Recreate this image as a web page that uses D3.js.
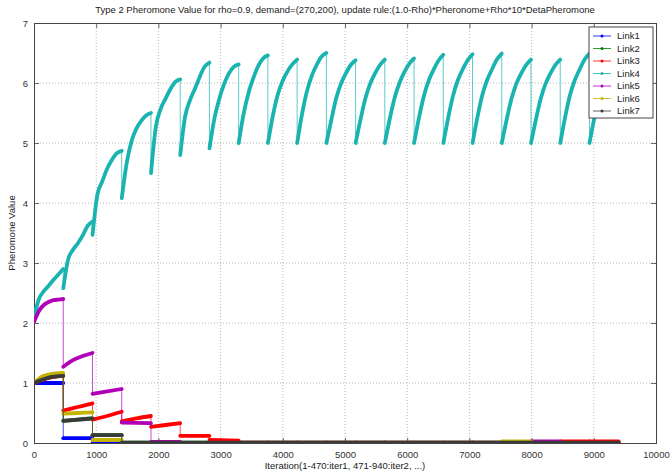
<!DOCTYPE html>
<html><head><meta charset="utf-8">
<script src="https://cdn.jsdelivr.net/npm/d3@7"></script>
<style>body{margin:0;background:#fff}</style>
</head><body><svg id="c" width="670" height="474"></svg>
<script>
// ---------------- data ----------------
const iterLength = 470;
const linkNames = ["Link1","Link2","Link3","Link4","Link5","Link6","Link7"];
const linkColors = ["#0000ff","#008000","#ff0000","#19b3b0","#b000b8","#c2b400","#3a3a3a"];
const xTicks = [0,1000,2000,3000,4000,5000,6000,7000,8000,9000,10000];
const yTicks = [0,1,2,3,4,5,6,7];
const titleText = "Type 2 Pheromone Value for rho=0.9, demand=(270,200), update rule:(1.0-Rho)*Pheronome+Rho*10*DetaPheromone";
const xLabel = "Iteration(1-470:iter1, 471-940:iter2, ...)";
const yLabel = "Pheromone Value";

// one entry per iteration block (values spread evenly across the block)
const link1 = [[1.0,1.0],[0.08,0.08],[0.0,0.0],[0],[0],[0],[0],[0],[0],[0],[0],[0],[0],[0],[0],[0],[0],[0],[0],[0]];
const link2 = [[1.0,1.05,1.09,1.11,1.12],[0.37,0.39,0.41],[0.13,0.13],[0.005],[0.005],[0.005],[0.005],[0.005],[0.005],[0.005],[0.005],[0.005],[0.005],[0.005],[0.005],[0.005],[0.005],[0.005],[0.005],[0.005]];
const link3 = [[1.0,1.06,1.1,1.12],[0.54,0.58,0.62,0.66],[0.39,0.45,0.52],[0.36,0.41,0.45],[0.27,0.30,0.33],[0.12,0.12],[0.05,0.04],[0.005],[0.005],[0.005],[0.005],[0.005],[0.005],[0.005],[0.005],[0.005],[0.005],[0.005],[0.025],[0.025]];
const link4 = [
  [2.10,2.40,2.53,2.62,2.72,2.81,2.90],
  [2.58,3.06,3.22,3.33,3.46,3.62,3.69],
  [3.47,4.14,4.36,4.57,4.72,4.83,4.87],
  [4.08,4.66,5.03,5.24,5.37,5.46,5.50],
  [4.50,5.27,5.57,5.74,5.90,6.02,6.06],
  [4.80,5.44,5.71,5.90,6.10,6.27,6.34],
  [4.91,5.40,5.73,5.98,6.16,6.27,6.31],
  [5.00,5.48,5.83,6.08,6.28,6.41,6.46],
  [5.00,5.45,5.80,6.03,6.19,6.31,6.39],
  [5.00,5.48,5.86,6.12,6.30,6.44,6.50],
  [5.00,5.38,5.74,5.99,6.16,6.30,6.38],
  [5.00,5.39,5.74,5.99,6.16,6.30,6.39],
  [5.00,5.40,5.75,6.00,6.18,6.32,6.41],
  [5.00,5.42,5.78,6.04,6.22,6.37,6.47],
  [5.00,5.42,5.79,6.05,6.23,6.38,6.48],
  [5.00,5.43,5.80,6.05,6.23,6.39,6.49],
  [5.00,5.39,5.74,5.99,6.16,6.30,6.39],
  [5.00,5.39,5.74,5.99,6.16,6.30,6.39],
  [5.00,5.43,5.80,6.05,6.23,6.39,6.49],
  [5.00,5.42,5.78,6.04,6.22,6.37,6.47]
];
const link5 = [[2.02,2.2,2.3,2.35,2.38,2.39,2.4],[1.27,1.38,1.45,1.5],[0.82,0.86,0.9],[0.34,0.33],[0.02,0.02],[0],[0],[0],[0],[0],[0],[0],[0],[0],[0],[0],[0],[0.025],[0],[0]];
const link6 = [[1.0,1.1,1.14,1.16,1.17],[0.49,0.5,0.51],[0.05,0.05],[0],[0],[0],[0],[0],[0],[0],[0],[0],[0],[0],[0],[0],[0.025],[0],[0],[0]];
const link7 = [[1.0,1.05,1.09,1.11,1.12],[0.37,0.39,0.41],[0.13,0.13],[0.005],[0.005],[0.005],[0.005],[0.005],[0.005],[0.005],[0.005],[0.005],[0.005],[0.005],[0.005],[0.005],[0.005],[0.005],[0.005],[0.005]];
const allLinks = [link1,link2,link3,link4,link5,link6,link7];

// ---------------- layout ----------------
const svg = d3.select("#c");
const m = {l:34, r:14, t:23, b:31};
const W = 670, H = 474;
const x = d3.scaleLinear().domain([0,10000]).range([m.l, W-m.r]);
const y = d3.scaleLinear().domain([0,7]).range([H-m.b, m.t]);
const font = "Liberation Sans, Arial, Helvetica, sans-serif";

// grid
const grid = svg.append("g").attr("stroke","#9a9a9a").attr("stroke-width",0.7).attr("stroke-dasharray","1,2");
grid.selectAll(".gx").data(xTicks.slice(1,-1)).join("line")
  .attr("x1",d=>x(d)).attr("x2",d=>x(d)).attr("y1",y(0)).attr("y2",y(7));
grid.selectAll(".gy").data(yTicks.slice(1,-1)).join("line")
  .attr("y1",d=>y(d)).attr("y2",d=>y(d)).attr("x1",x(0)).attr("x2",x(10000));

// axes with inward ticks
const tl = 5;
const axB = svg.append("g").attr("transform",`translate(0,${y(0)})`)
  .call(d3.axisBottom(x).tickValues(xTicks).tickSize(-tl).tickPadding(8).tickFormat(d3.format("d")));
const axT = svg.append("g").attr("transform",`translate(0,${y(7)})`)
  .call(d3.axisTop(x).tickValues(xTicks).tickSize(-tl).tickFormat(""));
const axL = svg.append("g").attr("transform",`translate(${x(0)},0)`)
  .call(d3.axisLeft(y).tickValues(yTicks).tickSize(-tl).tickPadding(6).tickFormat(d3.format("d")));
const axR = svg.append("g").attr("transform",`translate(${x(10000)},0)`)
  .call(d3.axisRight(y).tickValues(yTicks).tickSize(-tl).tickFormat(""));
[axB,axT,axL,axR].forEach(a=>{
  a.select(".domain").attr("stroke","#444").attr("stroke-width",1);
  a.selectAll(".tick line").attr("stroke","#444").attr("stroke-width",0.8);
  a.selectAll("text").attr("font-family",font).attr("font-size",9.5).attr("fill","#333");
});

// series
const clip = svg.append("clipPath").attr("id","pc").append("rect")
  .attr("x",x(0)).attr("y",y(7)).attr("width",x(10000)-x(0)).attr("height",y(0)-y(7));
const plot = svg.append("g").attr("clip-path","url(#pc)");

function segPoints(vals, i){
  const v = vals.length === 1 ? [vals[0], vals[0]] : vals;
  const start = i*iterLength + 1, span = iterLength - 1;
  return v.map((val,k)=>[start + k*span/(v.length-1), val]);
}
const thin = d3.line().x(d=>x(d[0])).y(d=>y(d[1]));
const thick = d3.line().x(d=>x(d[0])).y(d=>y(d[1])).curve(d3.curveMonotoneX);

allLinks.forEach((segs, li)=>{
  const g = plot.append("g");
  const segs2 = segs.map((s,i)=>segPoints(s,i));
  g.append("path").attr("d", thin(segs2.flat()))
    .attr("fill","none").attr("stroke",linkColors[li]).attr("stroke-width",0.7);
  g.selectAll(".seg").data(segs2).join("path").attr("d", d=>thick(d))
    .attr("fill","none").attr("stroke",linkColors[li]).attr("stroke-width",3.8)
    .attr("stroke-linecap","round").attr("stroke-linejoin","round");
});

// title & labels
svg.append("text").attr("x",(x(0)+x(10000))/2).attr("y",13).attr("text-anchor","middle")
  .attr("font-family",font).attr("font-size",9.5).attr("fill","#222").text(titleText);
svg.append("text").attr("x",(x(0)+x(10000))/2).attr("y",469).attr("text-anchor","middle")
  .attr("font-family",font).attr("font-size",9.5).attr("fill","#222").text(xLabel);
svg.append("text").attr("transform",`translate(15,${(y(0)+y(7))/2}) rotate(-90)`).attr("text-anchor","middle")
  .attr("font-family",font).attr("font-size",9.5).attr("fill","#222").text(yLabel);

// legend
const lg = svg.append("g");
const lx = 589, ly = 27, lw = 64, lh = 91;
lg.append("rect").attr("x",lx).attr("y",ly).attr("width",lw).attr("height",lh)
  .attr("fill","#fff").attr("stroke","#444").attr("stroke-width",1);
const items = lg.selectAll(".it").data(linkNames).join("g")
  .attr("transform",(d,i)=>`translate(${lx},${ly+9+i*12.5})`);
items.append("line").attr("x1",4).attr("x2",22).attr("y1",0).attr("y2",0)
  .attr("stroke",(d,i)=>linkColors[i]).attr("stroke-width",0.8);
items.append("circle").attr("cx",13).attr("cy",0).attr("r",1.5).attr("fill",(d,i)=>linkColors[i]);
items.append("text").attr("x",28).attr("y",3.3).attr("font-family",font).attr("font-size",9.5)
  .attr("fill","#222").text(d=>d);
</script></body></html>
